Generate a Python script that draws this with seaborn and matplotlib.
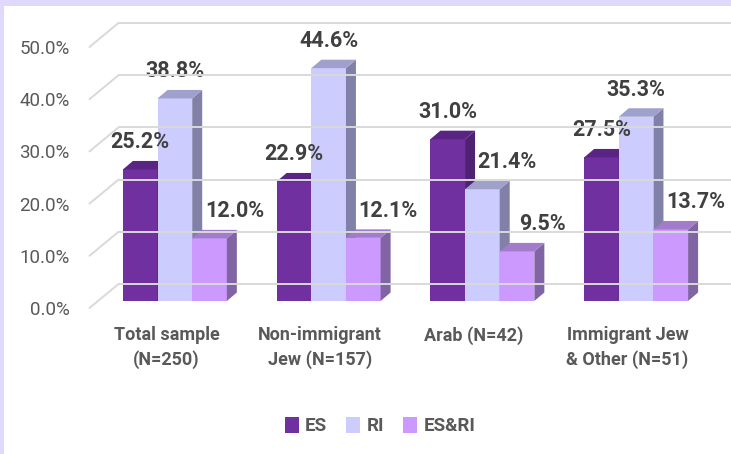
import pandas as pd
import matplotlib.pyplot as plt
import matplotlib.transforms as mtransforms
from matplotlib.patches import Polygon, Rectangle
from matplotlib.lines import Line2D
import seaborn as sns

# data
groups = ['Total sample\n(N=250)', 'Non-immigrant\nJew (N=157)', 'Arab (N=42)', 'Immigrant Jew\n& Other (N=51)']
series = ['ES', 'RI', 'ES&RI']
es = [25.2, 22.9, 31.0, 27.5]
ri = [38.8, 44.6, 21.4, 35.3]
es_ri = [12.0, 12.1, 9.5, 13.7]
yticks = [0, 10, 20, 30, 40, 50]

df = pd.DataFrame({
    'group': groups * 3,
    'series': ['ES'] * 4 + ['RI'] * 4 + ['ES&RI'] * 4,
    'value': es + ri + es_ri,
})

colors = {'ES': '#7030A0', 'RI': '#CCCCFF', 'ES&RI': '#CC99FF'}
side_cols = {'ES': '#4E2172', 'RI': '#8080A8', 'ES&RI': '#8064A4'}
top_cols = {'ES': '#5A2484', 'RI': '#A0A0CC', 'ES&RI': '#A27CCB'}

sns.set_style('white')
plt.rcParams['font.family'] = ['Roboto', 'DejaVu Sans']

W, H = 731, 454
fig = plt.figure(figsize=(W / 100, H / 100), dpi=100)
fig.patch.set_facecolor('white')

# lavender frame on top / left
lav = '#E1D9FB'
fig.add_artist(Rectangle((0, 1 - 6 / H), 1, 6 / H, transform=fig.transFigure, color=lav, lw=0, zorder=0))
fig.add_artist(Rectangle((0, 0), 4 / W, 1, transform=fig.transFigure, color=lav, lw=0, zorder=0))

ax = fig.add_axes([98 / W, (H - 301) / H, (713 - 98) / W, (301 - 40) / H])
ax.patch.set_alpha(0)
sns.barplot(data=df, x='group', y='value', hue='series', order=groups, hue_order=series,
            palette=colors, width=0.676, saturation=1, errorbar=None, linewidth=0, ax=ax)
ax.set_xlim(-0.5, 3.5)
ax.set_ylim(0, 50)
ax.set_xlabel('')
ax.set_ylabel('')
for s in ax.spines.values():
    s.set_visible(False)

ident = mtransforms.IdentityTransform()

# 3d-ish gridlines: side wall diagonal + back wall line
grid_c = '#D9D9D9'
x_plane = ax.transData.transform((-0.5, 0))[0]
for v in yticks:
    yd = ax.transData.transform((0, v))[1]
    fig.add_artist(Line2D([x_plane - 8.5, x_plane + 20.5], [yd - 7, yd + 17],
                          transform=ident, color=grid_c, lw=1.4, zorder=0.5))
    fig.add_artist(Line2D([x_plane + 20.5, W], [yd + 17, yd + 17],
                          transform=ident, color=grid_c, lw=1.4, zorder=0.5))

# bar depth faces and labels
dx, dy = 10, 8.5
vals = [es, ri, es_ri]
for h, cont in enumerate(ax.containers):
    name = series[h]
    for j, bar in enumerate(cont):
        bar.set_zorder(2 + h)
        x0 = bar.get_x()
        x1 = x0 + bar.get_width()
        top = bar.get_height()
        (px0, py0), (px1, py1) = ax.transData.transform([(x0, 0), (x1, top)])
        side = Polygon([(px1, py0), (px1 + dx, py0 + dy), (px1 + dx, py1 + dy), (px1, py1)],
                       closed=True, transform=ident, color=side_cols[name], lw=0,
                       zorder=2 + h + 0.1, clip_on=False)
        cap = Polygon([(px0, py1), (px0 + dx, py1 + dy), (px1 + dx, py1 + dy), (px1, py1)],
                      closed=True, transform=ident, color=top_cols[name], lw=0,
                      zorder=2 + h + 0.1, clip_on=False)
        ax.add_patch(side)
        ax.add_patch(cap)
        # nudge the label right when the bar before it is taller
        nudge = 25 if h > 0 and vals[h - 1][j] > vals[h][j] else 0
        ax.annotate(f'{top:.1f}%', xy=((x0 + x1) / 2, top), xytext=(nudge, 21),
                    textcoords='offset pixels', ha='center', va='baseline',
                    fontsize=15.5, fontweight='bold', color='#404040', zorder=10)

# axis tick labels
ax.set_yticks(yticks)
ax.set_yticklabels([f'{v:.1f}%' for v in yticks])
ax.tick_params(axis='y', length=0, pad=20.2, labelsize=13.5, labelcolor='#595959')
ax.tick_params(axis='x', length=0, pad=18, labelsize=13, labelcolor='#595959')
ax.set_xticks(range(len(groups)))
ax.set_xticklabels(groups, fontweight='bold', linespacing=1.4)
shift_y = mtransforms.ScaledTranslation(0, -7 / 100, fig.dpi_scale_trans)
shift_x = mtransforms.ScaledTranslation(-8.5 / 100, 0, fig.dpi_scale_trans)
for lab in ax.get_yticklabels():
    lab.set_transform(lab.get_transform() + shift_y)
for lab in ax.get_xticklabels():
    lab.set_transform(lab.get_transform() + shift_x)
ax.grid(False)

sns.move_legend(ax, 'center', bbox_to_anchor=(380 / W, 1 - 426 / H), bbox_transform=fig.transFigure,
                ncol=3, frameon=False, title=None, handlelength=0.75, handleheight=0.95,
                handletextpad=0.35, columnspacing=1.0, prop={'weight': 'bold', 'size': 13.5})
for t in ax.get_legend().get_texts():
    t.set_color('#595959')

fig.savefig('out.png', dpi=100)
